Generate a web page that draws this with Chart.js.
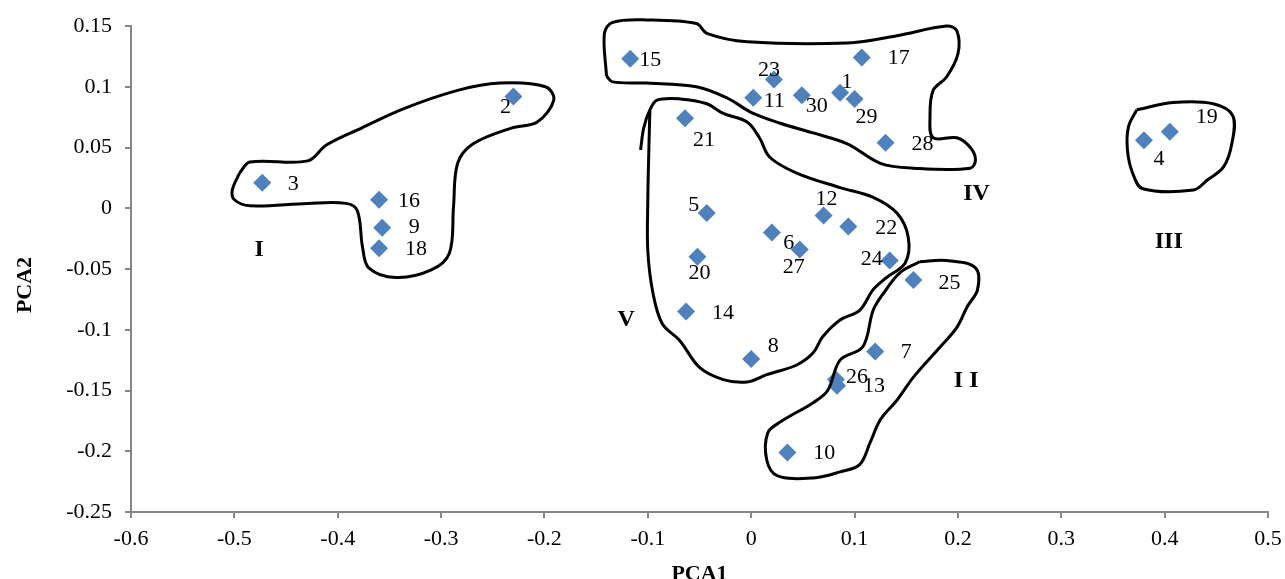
<!DOCTYPE html>
<html>
<head>
<meta charset="utf-8">
<script src="https://cdn.jsdelivr.net/npm/chart.js@4.4.0/dist/chart.umd.min.js"></script>
<style>
  html, body { margin: 0; padding: 0; background: #fff; }
  #wrap { width: 1285px; height: 579px; position: relative; }
</style>
</head>
<body>
<div id="wrap"><canvas id="myChart" width="1285" height="579"></canvas></div>
<script>
const pointIds = ['1','2','3','4','5','6','7','8','9','10','11','12','13','14','15','16','17','18','19','20','21','22','23','24','25','26','27','28','29','30'];
const pca1 = [0.086,-0.230,-0.473,0.380,-0.043,0.020,0.120,0.000,-0.357,0.035,0.002,0.070,0.083,-0.063,-0.117,-0.360,0.107,-0.360,0.405,-0.052,-0.064,0.094,0.022,0.134,0.157,0.082,0.047,0.130,0.100,0.049];
const pca2 = [0.095,0.092,0.021,0.056,-0.004,-0.020,-0.118,-0.124,-0.016,-0.201,0.091,-0.006,-0.146,-0.085,0.123,0.007,0.124,-0.033,0.063,-0.040,0.074,-0.015,0.106,-0.043,-0.059,-0.141,-0.034,0.054,0.090,0.093];

const xTicks = [-0.6,-0.5,-0.4,-0.3,-0.2,-0.1,0,0.1,0.2,0.3,0.4,0.5];
const yTicks = [-0.25,-0.2,-0.15,-0.1,-0.05,0,0.05,0.1,0.15];

// cluster names and where they sit (data units)
const groupNames = ['I','I I','III','IV','V'];
const groupX = [-0.476,0.208,0.404,0.218,-0.121];
const groupY = [-0.034,-0.142,-0.028,0.012,-0.092];

// hand drawn cluster outlines (data units)
const outlineI = [[-0.495,0.029],[-0.485,0.038],[-0.429,0.039],[-0.411,0.052],[-0.377,0.066],[-0.336,0.082],[-0.284,0.097],[-0.243,0.103],[-0.199,0.100],[-0.191,0.089],[-0.207,0.071],[-0.232,0.066],[-0.269,0.053],[-0.284,0.037],[-0.288,0.001],[-0.292,-0.037],[-0.310,-0.051],[-0.344,-0.057],[-0.370,-0.049],[-0.376,-0.032],[-0.381,-0.002],[-0.392,0.004],[-0.429,0.004],[-0.485,0.002],[-0.500,0.007],[-0.502,0.015],[-0.495,0.029]];
const outlineII = [[0.163,-0.044],[0.189,-0.043],[0.217,-0.049],[0.219,-0.067],[0.209,-0.081],[0.199,-0.098],[0.183,-0.114],[0.157,-0.139],[0.141,-0.158],[0.125,-0.174],[0.115,-0.193],[0.105,-0.211],[0.086,-0.217],[0.060,-0.222],[0.025,-0.220],[0.015,-0.207],[0.016,-0.185],[0.028,-0.176],[0.060,-0.160],[0.074,-0.150],[0.086,-0.125],[0.108,-0.114],[0.118,-0.084],[0.128,-0.070],[0.144,-0.053],[0.163,-0.044]];
const outlineIII = [[0.373,0.081],[0.408,0.087],[0.447,0.086],[0.466,0.076],[0.465,0.053],[0.457,0.034],[0.441,0.023],[0.428,0.015],[0.379,0.016],[0.369,0.029],[0.364,0.048],[0.365,0.067],[0.373,0.081]];
const outlineIV = [[-0.140,0.109],[-0.142,0.144],[-0.134,0.153],[-0.101,0.155],[-0.053,0.152],[-0.043,0.144],[-0.004,0.137],[0.093,0.136],[0.141,0.142],[0.189,0.150],[0.199,0.146],[0.200,0.127],[0.189,0.108],[0.176,0.097],[0.173,0.075],[0.176,0.058],[0.199,0.058],[0.212,0.050],[0.217,0.040],[0.212,0.033],[0.157,0.033],[0.125,0.037],[0.093,0.053],[0.060,0.062],[0.028,0.070],[0.002,0.078],[-0.024,0.091],[-0.053,0.100],[-0.101,0.103],[-0.134,0.104],[-0.140,0.109]];
const outlineV = [[-0.107,0.048],[-0.104,0.066],[-0.098,0.081],[-0.091,0.089],[-0.069,0.090],[-0.043,0.086],[-0.027,0.078],[-0.004,0.071],[0.008,0.058],[0.018,0.042],[0.044,0.029],[0.086,0.017],[0.118,0.009],[0.141,-0.004],[0.152,-0.024],[0.149,-0.045],[0.131,-0.057],[0.118,-0.067],[0.105,-0.084],[0.086,-0.092],[0.069,-0.106],[0.060,-0.119],[0.044,-0.129],[0.015,-0.137],[-0.004,-0.143],[-0.027,-0.141],[-0.050,-0.131],[-0.069,-0.109],[-0.086,-0.095],[-0.095,-0.070],[-0.100,-0.035],[-0.100,0.007],[-0.099,0.048],[-0.098,0.081]];

// where each number sits next to its diamond (px)
const labelOffsets = [[7,-11],[-8,11],[31,1],[15,19],[-13,-8],[17,11],[31,1],[22,-13],[32,0],[37,1],[21,4],[3,-16],[37,1],[37,2],[20,1],[30,1],[37,1],[37,1],[37,-14],[2,16],[19,22],[38,2],[-5,-9],[-18,-1],[36,3],[21,-2],[-6,18],[37,2],[12,18],[15,11]];

const serif = "'Liberation Serif', 'Times New Roman', serif";

const points = pca1.map((x, i) => ({ x: x, y: pca2[i] }));
const toXY = arr => arr.map(p => ({ x: p[0], y: p[1] }));

function outlineSet(arr) {
    return {
        data: toXY(arr),
        showLine: true,
        borderColor: '#000',
        borderWidth: 3,
        pointRadius: 0,
        tension: 0.35,
        fill: false,
        clip: false
    };
}

const labelPlugin = {
    id: 'labels',
    afterDatasetsDraw(chart) {
        const ctx = chart.ctx;
        const xs = chart.scales.x, ys = chart.scales.y;
        ctx.save();
        ctx.fillStyle = '#000';
        ctx.textAlign = 'center';
        ctx.textBaseline = 'middle';
        ctx.font = '22px ' + serif;
        const meta = chart.getDatasetMeta(5);
        meta.data.forEach((el, i) => {
            ctx.fillText(pointIds[i], el.x + labelOffsets[i][0], el.y + labelOffsets[i][1]);
        });
        ctx.font = 'bold 24px ' + serif;
        groupNames.forEach((g, i) => {
            ctx.fillText(g, xs.getPixelForValue(groupX[i]), ys.getPixelForValue(groupY[i]));
        });
        // axis titles
        const a = chart.chartArea;
        ctx.font = 'bold 22px ' + serif;
        ctx.fillText('PCA1', (a.left + a.right) / 2, 574);
        ctx.translate(25, (a.top + a.bottom) / 2 + 16);
        ctx.rotate(-Math.PI / 2);
        ctx.fillText('PCA2', 0, 0);
        ctx.restore();
    }
};

const ctx = document.getElementById('myChart').getContext('2d');
const myChart = new Chart(ctx, {
    type: 'scatter',
    data: {
        datasets: [
            outlineSet(outlineI),
            outlineSet(outlineII),
            outlineSet(outlineIII),
            outlineSet(outlineIV),
            outlineSet(outlineV),
            {
                data: points,
                pointStyle: 'rectRot',
                pointRadius: 9,
                backgroundColor: '#4F81BD',
                borderColor: '#4F81BD',
                borderWidth: 0
            }
        ]
    },
    options: {
        responsive: false,
        animation: false,
        events: [],
        elements: {
            line: { capBezierPoints: false }
        },
        layout: {
            padding: { left: 0, top: 26, right: 17, bottom: 0 }
        },
        scales: {
            x: {
                type: 'linear',
                min: -0.6,
                max: 0.5,
                afterBuildTicks: s => { s.ticks = xTicks.map(v => ({ value: v })); },
                afterFit: s => { s.height = 67; s.paddingLeft = 0; s.paddingRight = 0; },
                ticks: {
                    callback: v => String(Math.round(v * 100) / 100),
                    font: { family: serif, size: 22 },
                    color: '#000',
                    padding: 8,
                    maxRotation: 0
                },
                grid: { drawOnChartArea: false, tickLength: 6, color: '#868686', lineWidth: 2 },
                border: { color: '#868686', width: 2 }
            },
            y: {
                type: 'linear',
                min: -0.25,
                max: 0.15,
                afterBuildTicks: s => { s.ticks = yTicks.map(v => ({ value: v })); },
                afterFit: s => { s.width = 131; s.paddingTop = 0; s.paddingBottom = 0; },
                ticks: {
                    callback: v => String(Math.round(v * 100) / 100),
                    font: { family: serif, size: 22 },
                    color: '#000',
                    padding: 13
                },
                grid: { drawOnChartArea: false, tickLength: 6, color: '#868686', lineWidth: 2 },
                border: { color: '#868686', width: 2 }
            }
        },
        plugins: {
            legend: { display: false },
            tooltip: { enabled: false }
        }
    },
    plugins: [labelPlugin]
});
</script>
</body>
</html>
